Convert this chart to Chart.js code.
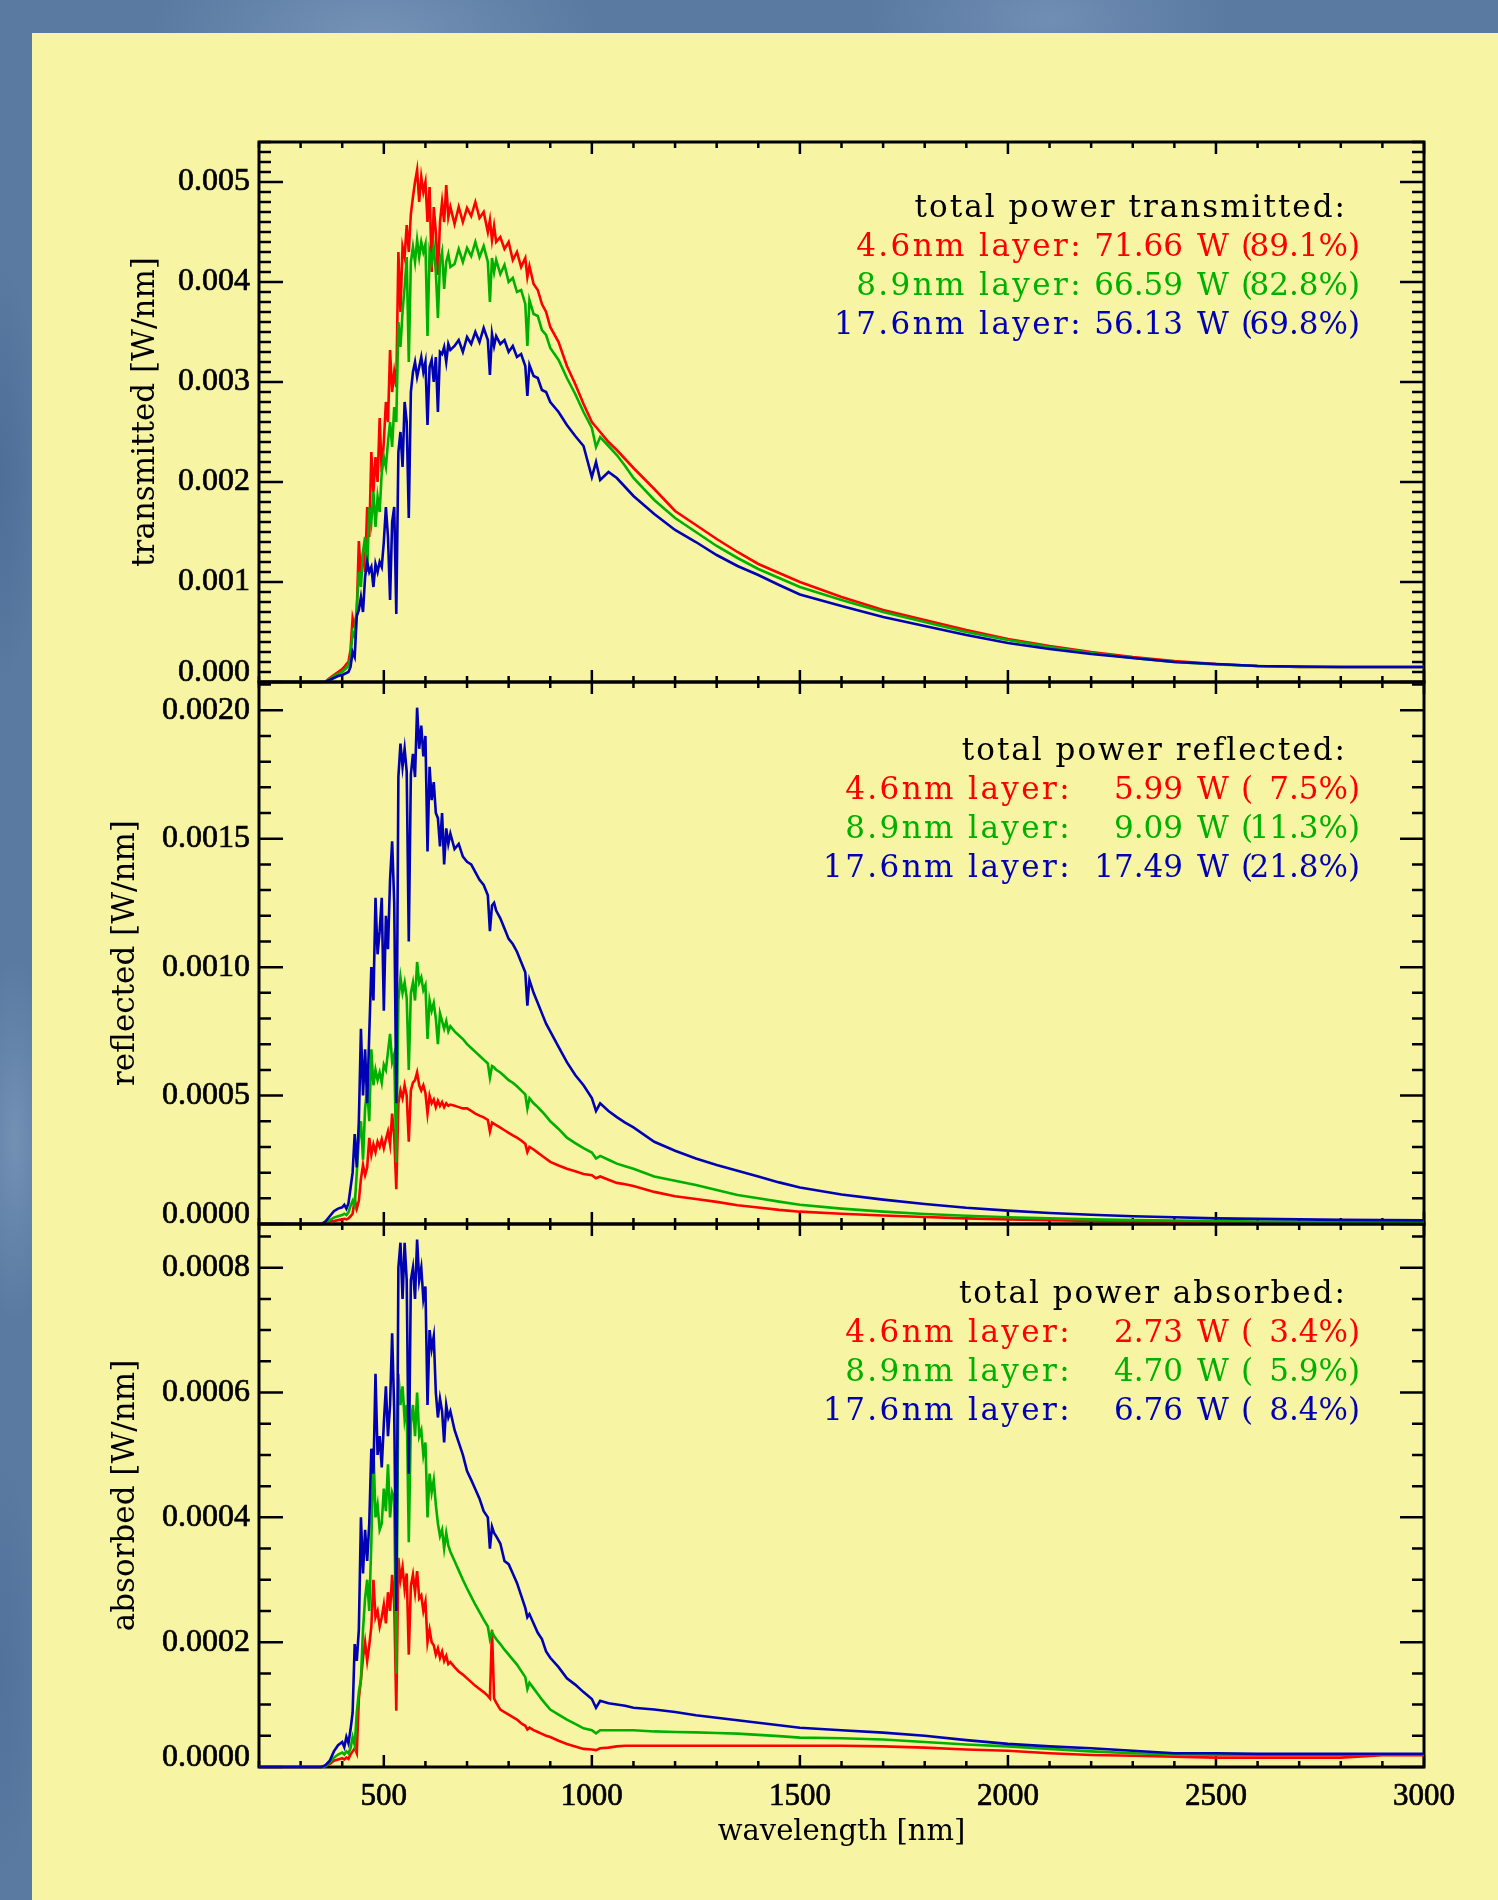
<!DOCTYPE html>
<html>
<head>
<meta charset="utf-8">
<script src="https://cdn.jsdelivr.net/npm/chart.js@4.4.1/dist/chart.umd.min.js"></script>
<style>
html, body { margin:0; padding:0; }
body {
  width:1498px; height:1900px; overflow:hidden; position:relative;
  background-color:#5a7aa1;
  background-image:
    radial-gradient(ellipse 320px 160px at 25% 2%, rgba(140,166,200,0.55), rgba(0,0,0,0) 70%),
    radial-gradient(ellipse 260px 140px at 70% 1%, rgba(135,160,198,0.5), rgba(0,0,0,0) 70%),
    radial-gradient(ellipse 60px 300px at 0% 25%, rgba(70,100,145,0.6), rgba(0,0,0,0) 70%),
    radial-gradient(ellipse 60px 260px at 1% 60%, rgba(140,166,200,0.5), rgba(0,0,0,0) 70%),
    radial-gradient(ellipse 60px 300px at 0% 88%, rgba(75,105,150,0.55), rgba(0,0,0,0) 70%);
}
#panel { position:absolute; left:32px; top:33px; right:0; bottom:0; background:#f7f5a3; }
canvas { position:absolute; left:0; top:0; }
</style>
</head>
<body>
<div id="panel"></div>
<canvas id="cTrans" width="1498" height="1900"></canvas>
<canvas id="cRefl" width="1498" height="1900"></canvas>
<canvas id="cAbs" width="1498" height="1900"></canvas>
<script>
// ---------------- DATA ----------------
const wavelength = [
  200, 300, 350, 360, 370, 380, 390,
  400, 405, 410, 415, 420, 425, 430, 435, 440,
  445, 450, 455, 460, 465, 470, 475, 480, 485, 490,
  495, 500, 505, 510, 515, 520, 525, 530, 535, 540,
  545, 550, 555, 560, 565, 570, 575, 580, 585, 590,
  595, 600, 605, 610, 615, 620, 625, 630, 635, 640,
  645, 650, 655, 660,
  670, 680, 690, 700, 710, 720, 730, 740, 750,
  755, 760, 765, 770,
  780, 790, 800, 810, 820, 830, 840,
  845, 850, 860, 870, 880, 890, 900,
  920, 940, 960, 980, 1000,
  1010, 1020, 1040, 1060, 1080, 1100,
  1150, 1200, 1250, 1300, 1350, 1400, 1450, 1500,
  1600, 1700, 1800, 1900, 2000, 2100, 2200, 2300, 2400, 2500, 2600, 2700, 2800, 2900, 3000
];

// transmitted [W/nm]
const transmitted46 = [
  0, 0, 0, 0.000005, 0.00004, 0.00007, 0.0001,
  0.00013, 0.00015, 0.00018, 0.0002, 0.00032, 0.00064, 0.00055, 0.0007, 0.00141,
  0.00105, 0.0013, 0.0011, 0.00175, 0.00145, 0.0023, 0.0019, 0.00225, 0.002, 0.00264,
  0.0021, 0.0024, 0.0028, 0.0026, 0.00332, 0.0029, 0.0031, 0.00295, 0.0043, 0.0037,
  0.00435, 0.00425, 0.00457, 0.0043, 0.00468, 0.00485, 0.005, 0.00512, 0.0048, 0.00505,
  0.0049, 0.005, 0.0046, 0.00495, 0.0041, 0.00475, 0.0045, 0.00407, 0.0046, 0.0048,
  0.0046, 0.00497, 0.00465, 0.00475,
  0.00458, 0.00475, 0.0046, 0.00474, 0.00466, 0.0048, 0.00464, 0.0047, 0.0045,
  0.00462, 0.00442, 0.00456, 0.0044,
  0.00445, 0.00433, 0.0044, 0.00422, 0.0043, 0.00415, 0.00424,
  0.00405, 0.00416, 0.00398, 0.00392, 0.00378, 0.0037, 0.00355,
  0.0034, 0.00316, 0.00298, 0.00278, 0.0026,
  0.00255, 0.0025, 0.0024, 0.00232, 0.00223, 0.00214,
  0.00193, 0.00171, 0.00157, 0.00143, 0.0013, 0.00118, 0.00109, 0.001,
  0.00085, 0.00072, 0.00062, 0.00052, 0.00043, 0.00036, 0.0003, 0.00025, 0.00021, 0.00018, 0.00016, 0.00015, 0.00015, 0.00015, 0.00015
];
const transmitted89 = [
  0, 0, 0, 0.000004, 0.00003, 0.00006, 0.00008,
  0.0001, 0.00012, 0.00014, 0.00016, 0.00025, 0.0005, 0.00045, 0.00075, 0.0011,
  0.00095, 0.0013, 0.00145, 0.0011, 0.00175, 0.0016, 0.0019, 0.00155, 0.00185, 0.0017,
  0.0021, 0.00225, 0.00215, 0.0024, 0.0026, 0.00235, 0.00275, 0.0026, 0.0036, 0.00335,
  0.0037, 0.00395, 0.00425, 0.0032, 0.0042, 0.00435, 0.0042, 0.00442, 0.00425, 0.0044,
  0.0043, 0.00438, 0.00346, 0.0043, 0.0042, 0.00435, 0.0041, 0.00364, 0.0042, 0.0043,
  0.00393, 0.0042, 0.00428, 0.00415,
  0.00418, 0.00433, 0.0042, 0.00434, 0.00426, 0.0044, 0.00425, 0.00436, 0.0042,
  0.0038, 0.00424, 0.0041, 0.00422,
  0.00408, 0.00417, 0.004, 0.00404, 0.0039, 0.00392, 0.00378,
  0.00336, 0.00382, 0.00368, 0.00366, 0.00352, 0.00347, 0.00334,
  0.00322, 0.00304, 0.00288, 0.0027, 0.00254,
  0.00235, 0.00245, 0.00236, 0.00227, 0.00216, 0.00204,
  0.00182, 0.00164, 0.0015, 0.00136, 0.00124, 0.00113, 0.00104, 0.00095,
  0.00082, 0.0007, 0.0006, 0.0005, 0.00042, 0.00035, 0.00029, 0.00024, 0.0002, 0.000175, 0.00016, 0.00015, 0.00015, 0.00015, 0.00015
];
const transmitted176 = [
  0, 0, 0, 0.000003, 0.00002, 0.00004, 0.00006,
  0.00007, 0.00008, 0.00009, 0.0001, 0.00015, 0.0003, 0.00025, 0.00066, 0.00072,
  0.00085, 0.0007, 0.00105, 0.0012, 0.0011, 0.00115, 0.00095, 0.00118, 0.0011, 0.0012,
  0.00115, 0.0014, 0.00175, 0.00145, 0.00082, 0.0016, 0.00175, 0.00068, 0.0023, 0.0025,
  0.00215, 0.0028, 0.0026, 0.00164, 0.0029, 0.0031, 0.0032, 0.00305, 0.00315, 0.00325,
  0.0031, 0.0032, 0.00257, 0.00315, 0.00322, 0.003, 0.00325, 0.0027, 0.0033, 0.00328,
  0.00335, 0.0032, 0.00338, 0.00332,
  0.00336, 0.00342, 0.0033, 0.00345, 0.00338, 0.0035, 0.0034, 0.00354, 0.00342,
  0.00307, 0.00348, 0.00336, 0.00346,
  0.00338, 0.00342, 0.0033, 0.00336, 0.00325, 0.00328, 0.00316,
  0.00286, 0.00317, 0.00306, 0.00304, 0.00292, 0.0029, 0.0028,
  0.0027, 0.00257, 0.00246, 0.00236, 0.00205,
  0.0022, 0.00202, 0.0021, 0.00204, 0.00195, 0.00186,
  0.00168, 0.00152, 0.0014, 0.00127, 0.00116, 0.00107, 0.00097, 0.000875,
  0.00076, 0.00065, 0.00056, 0.00047, 0.00039, 0.00033, 0.00028, 0.00024, 0.0002, 0.00018, 0.00016, 0.000155, 0.00015, 0.00015, 0.00015
];

// reflected [W/nm]
const reflected46 = [
  0, 0, 0, 0.000003, 0.00001, 0.000012, 0.000015,
  0.000018, 0.00002, 0.000018, 0.000022, 0.00003, 0.00004, 0.000095, 0.00006, 0.00009,
  0.000175, 0.00023, 0.00019, 0.00022, 0.000335, 0.00027, 0.00031, 0.00028, 0.00032, 0.0003,
  0.00033, 0.000295, 0.00033, 0.00036, 0.00031, 0.00043, 0.00034, 0.000135, 0.00047, 0.00052,
  0.00049, 0.00054, 0.0005, 0.00032, 0.00052, 0.00055, 0.00056, 0.00059, 0.00054, 0.00052,
  0.00054, 0.00051, 0.00043, 0.0005, 0.00047, 0.000485, 0.000455, 0.00048, 0.00046, 0.000475,
  0.000455, 0.00047, 0.00046, 0.000465,
  0.00046, 0.000455, 0.00045, 0.00045, 0.00044, 0.00043, 0.000422, 0.000415, 0.000405,
  0.00036, 0.000395, 0.00039, 0.000385,
  0.000375, 0.000365, 0.000355, 0.000345, 0.000336, 0.000325, 0.000312,
  0.00028, 0.0003, 0.00029, 0.000278, 0.000266, 0.000254, 0.000242,
  0.000228, 0.000215, 0.000205, 0.000195, 0.00019,
  0.000178, 0.000185, 0.000172, 0.00016, 0.000155, 0.000148,
  0.000125, 0.000108, 0.000097, 0.000086, 0.000073, 0.000064, 0.000055, 0.000048,
  0.00004, 0.000033, 0.000027, 0.000022, 0.000018, 0.000015, 0.000012, 0.00001, 0.000009, 0.000008, 0.000007, 0.000007, 0.000006, 0.000006, 0.000006
];
const reflected89 = [
  0, 0, 0, 0.000005, 0.000015, 0.000025, 0.00003,
  0.000035, 0.00004, 0.000035, 0.000045, 0.00007, 0.00009, 0.00007, 0.0002, 0.00033,
  0.0004, 0.00025, 0.00045, 0.00053, 0.0004, 0.00068, 0.00054, 0.0006, 0.00056, 0.00059,
  0.00055, 0.00062, 0.0006, 0.00067, 0.00074, 0.00063, 0.00066, 0.00024, 0.00087, 0.00096,
  0.0009, 0.00094, 0.00088, 0.0006, 0.0009, 0.00094, 0.00087, 0.00102, 0.00094, 0.00096,
  0.00091, 0.00093, 0.00072, 0.00087, 0.00083, 0.00086, 0.0008, 0.0007, 0.00082, 0.00079,
  0.00076, 0.00079, 0.00075, 0.00077,
  0.00075, 0.000735, 0.00072, 0.0007, 0.000685, 0.00067, 0.000655, 0.00064, 0.000625,
  0.00057, 0.000615, 0.00061, 0.0006,
  0.00059, 0.000575, 0.00056, 0.00055, 0.000536, 0.00052, 0.000505,
  0.00045, 0.00049, 0.00047, 0.000455, 0.000438, 0.00042, 0.0004,
  0.00037, 0.000336, 0.000315, 0.000295, 0.000278,
  0.000255, 0.000265, 0.00025, 0.000235, 0.000225, 0.000215,
  0.000185, 0.000168, 0.000152, 0.000132, 0.000113, 0.0001, 0.000087, 0.000075,
  0.00006, 0.000048, 0.000039, 0.000032, 0.000026, 0.000022, 0.000018, 0.000015, 0.000013, 0.000011, 0.00001, 0.000009, 0.000008, 0.000008, 0.000007
];
const reflected176 = [
  0, 0, 0, 0.00001, 0.00003, 0.00005, 0.00006,
  0.000065, 0.000075, 0.00006, 0.00008, 0.00014, 0.0002, 0.00035, 0.00022, 0.0004,
  0.00076, 0.0005, 0.00068, 0.00047, 0.00074, 0.001, 0.00087, 0.00127, 0.00105, 0.00114,
  0.00127, 0.00083, 0.0012, 0.00107, 0.00134, 0.00149, 0.00125, 0.00047, 0.00174, 0.00187,
  0.00178, 0.00185, 0.00176, 0.0011, 0.00175, 0.00183, 0.00174, 0.00201, 0.00185, 0.00194,
  0.00182, 0.0019, 0.00145, 0.00178, 0.00165, 0.00172, 0.0016, 0.00158, 0.00147, 0.0016,
  0.0014, 0.00154, 0.00148, 0.00152,
  0.00146, 0.00148, 0.00143, 0.00141, 0.0014, 0.00137, 0.00134, 0.00132, 0.00128,
  0.00114, 0.00124, 0.00125, 0.00122,
  0.00119, 0.00115, 0.00111, 0.00109, 0.00106, 0.00102, 0.00098,
  0.00085, 0.00095, 0.0009, 0.00086, 0.00082, 0.00078, 0.00075,
  0.00069, 0.00063, 0.00058, 0.00054, 0.00049,
  0.00044, 0.00047, 0.00044, 0.000416, 0.000395, 0.000376,
  0.00032, 0.000285, 0.000255, 0.00023, 0.000207, 0.000185, 0.000162, 0.000142,
  0.000115, 0.000095, 0.000078, 0.000063, 0.000052, 0.000043, 0.000036, 0.00003, 0.000026, 0.000022, 0.00002, 0.000018, 0.000016, 0.000015, 0.000014
];

// absorbed [W/nm]
const absorbed46 = [
  0, 0, 0, 0.000001, 0.000005, 0.00001, 0.000012,
  0.000014, 0.000012, 0.000015, 0.000013, 0.00002, 0.000025, 0.00003, 0.000022, 0.00011,
  0.00014, 0.000175, 0.0002, 0.00017, 0.000195, 0.000225, 0.0003, 0.00024, 0.00025, 0.000225,
  0.00024, 0.00026, 0.00023, 0.00028, 0.00025, 0.000308, 0.00026, 0.00009, 0.000335, 0.0003,
  0.00032, 0.000285, 0.00031, 0.00018, 0.00029, 0.000308, 0.00028, 0.000314, 0.00027, 0.000275,
  0.00025, 0.000265, 0.0002, 0.00022, 0.0002, 0.000195, 0.00018, 0.00019, 0.000175, 0.000185,
  0.00017, 0.000178, 0.000165, 0.000168,
  0.00016, 0.000153, 0.000148, 0.000142, 0.000136, 0.00013, 0.000125, 0.00012, 0.000114,
  0.00011, 0.00022, 0.00011, 0.000103,
  0.000092, 0.000088, 0.000084, 0.00008, 0.000076, 0.00007, 0.000066,
  0.00006, 0.000063, 0.000059, 0.000056, 0.000053, 0.00005, 0.000048,
  0.000042, 0.000037, 0.000033, 0.000029, 0.000028,
  0.000027, 0.00003, 0.000031, 0.000033, 0.000034, 0.000034,
  0.000034, 0.000034, 0.000034, 0.000034, 0.000034, 0.000034, 0.000034, 0.000034,
  0.000034, 0.000033, 0.000031, 0.000028, 0.000026, 0.000022, 0.0000193, 0.000018, 0.0000166, 0.000015, 0.000015, 0.000015, 0.000015, 0.000019, 0.000019
];
const absorbed89 = [
  0, 0, 0, 0.000002, 0.000008, 0.000015, 0.00002,
  0.000023, 0.00002, 0.000025, 0.000022, 0.00003, 0.000048, 0.000035, 0.000087, 0.00012,
  0.00014, 0.00022, 0.00027, 0.0003, 0.00025, 0.00036, 0.00051, 0.0004, 0.00042, 0.00038,
  0.00039, 0.000446, 0.00041, 0.000485, 0.0004, 0.00044, 0.00043, 0.00015, 0.00063, 0.00058,
  0.00061, 0.000557, 0.00058, 0.00036, 0.00055, 0.00058, 0.00053, 0.0006, 0.00053, 0.00054,
  0.0005, 0.00052, 0.0004, 0.00047, 0.00044, 0.00046, 0.00042, 0.00039, 0.00037, 0.00038,
  0.00035, 0.000375, 0.000355, 0.000345,
  0.00033, 0.000315, 0.0003, 0.000286, 0.000273, 0.00026, 0.000248, 0.000236, 0.000225,
  0.000205, 0.000216, 0.00021, 0.000205,
  0.000197, 0.000188, 0.00018, 0.000172, 0.000164, 0.000154, 0.000144,
  0.000125, 0.000135, 0.000126, 0.000117, 0.000108, 0.0001, 0.000092,
  0.000084, 0.000076, 0.000069, 0.000062, 0.000059,
  0.000054, 0.000059, 0.000059, 0.000059, 0.000059, 0.000059,
  0.000057, 0.000056, 0.0000555, 0.0000545, 0.0000535, 0.0000515, 0.0000495, 0.000047,
  0.000046, 0.000044, 0.00004, 0.000036, 0.000033, 0.000029, 0.000025, 0.000022, 0.00002, 0.0000196, 0.0000196, 0.0000196, 0.0000196, 0.0000196, 0.0000196
];
const absorbed176 = [
  0, 0, 0, 0.000003, 0.00001, 0.000025, 0.000035,
  0.00004, 0.000032, 0.000048, 0.000038, 0.00006, 0.000087, 0.000197, 0.00017, 0.00022,
  0.0004, 0.00031, 0.00038, 0.00033, 0.00039, 0.00051, 0.00047, 0.00063, 0.0005, 0.00053,
  0.00048, 0.00055, 0.00061, 0.00053, 0.00058, 0.000695, 0.00057, 0.00025, 0.0008, 0.00084,
  0.00075, 0.00084, 0.00078, 0.00047, 0.00078, 0.0008, 0.00075, 0.000845, 0.00078, 0.0008,
  0.00075, 0.00077, 0.00058, 0.0007, 0.00067, 0.00069, 0.0006, 0.00056, 0.00059, 0.00057,
  0.00052, 0.00058, 0.00056, 0.00057,
  0.00054, 0.00052, 0.0005, 0.000474, 0.00046, 0.000445, 0.00043, 0.00041, 0.0004,
  0.00035, 0.000385, 0.000375, 0.00037,
  0.000358, 0.00033, 0.000325, 0.00031, 0.000295, 0.000275, 0.000255,
  0.00024, 0.000245, 0.00023, 0.000215, 0.000205, 0.000185, 0.000175,
  0.00016, 0.000142, 0.000132, 0.00012, 0.000109,
  0.000095, 0.000106, 0.000102, 0.0001, 0.000098, 0.000095,
  0.000092, 0.000088, 0.000083, 0.000079, 0.000075, 0.000071, 0.000067, 0.000063,
  0.000059, 0.000055, 0.00005, 0.000043, 0.000037, 0.000033, 0.00003, 0.000026, 0.000022, 0.000022, 0.000021, 0.000021, 0.000021, 0.000021, 0.000021
];

// legend numbers
const layerNames = ['4.6nm layer:', '8.9nm layer:', '17.6nm layer:'];
const transPowerW = [71.66, 66.59, 56.13];
const transPercent = [89.1, 82.8, 69.8];
const reflPowerW = [5.99, 9.09, 17.49];
const reflPercent = [7.5, 11.3, 21.8];
const absPowerW = [2.73, 4.70, 6.76];
const absPercent = [3.4, 5.9, 8.4];

// ticks
const xTickValues = [500, 1000, 1500, 2000, 2500, 3000];
const xTickLabels = ['500', '1000', '1500', '2000', '2500', '3000'];
const transTickValues = [0, 0.001, 0.002, 0.003, 0.004, 0.005];
const transTickLabels = ['0.000', '0.001', '0.002', '0.003', '0.004', '0.005'];
const reflTickValues = [0, 0.0005, 0.001, 0.0015, 0.002];
const reflTickLabels = ['0.0000', '0.0005', '0.0010', '0.0015', '0.0020'];
const absTickValues = [0, 0.0002, 0.0004, 0.0006, 0.0008];
const absTickLabels = ['0.0000', '0.0002', '0.0004', '0.0006', '0.0008'];

// ---------------- STYLE / LAYOUT ----------------
const W = 1498, H = 1900;
const PLOT_LEFT = 259, PLOT_RIGHT = 1424;
const COLORS = ['#ff0000', '#00b000', '#0000b4'];
const TICK_FONT = 'Liberation Serif';
const TEXT_FONT = 'DejaVu Serif';

function minorList(min, max, step, majors) {
  const out = [];
  const n = Math.round((max - min) / step);
  for (let i = 0; i <= n; i++) {
    const v = +(min + i * step).toFixed(8);
    if (!majors.some(m => Math.abs(m - v) < step / 10)) out.push(v);
  }
  return out;
}
const xMinor = minorList(200, 3000, 100, xTickValues);

const frameTicks = {
  id: 'frameTicks',
  beforeDatasetsDraw(chart, args, o) {
    const { ctx, chartArea: { left, right, top, bottom }, scales: { x, y } } = chart;
    ctx.save();
    ctx.strokeStyle = '#000';
    ctx.lineWidth = 2.5;
    ctx.lineCap = 'butt';
    ctx.beginPath();
    const vt = (v, len) => {
      const px = x.getPixelForValue(v);
      ctx.moveTo(px, bottom); ctx.lineTo(px, bottom - len);
      ctx.moveTo(px, top); ctx.lineTo(px, top + len);
    };
    xTickValues.forEach(v => vt(v, 12));
    xMinor.forEach(v => vt(v, 6));
    const ht = (v, len) => {
      const py = y.getPixelForValue(v);
      ctx.moveTo(left, py); ctx.lineTo(left + len, py);
      ctx.moveTo(right, py); ctx.lineTo(right - len, py);
    };
    o.yMajor.forEach(v => ht(v, 24));
    o.yMinor.forEach(v => ht(v, 12));
    ctx.stroke();
    ctx.lineWidth = 3;
    ctx.strokeRect(left, top, right - left, bottom - top);
    ctx.restore();
  }
};

const powerLegend = {
  id: 'powerLegend',
  afterDraw(chart, args, o) {
    const ctx = chart.ctx;
    ctx.save();
    ctx.font = '31px "' + TEXT_FONT + '"';
    ctx.textBaseline = 'alphabetic';
    ctx.fillStyle = '#000';
    ctx.textAlign = 'right';
    ctx.letterSpacing = '2px';
    ctx.fillText(o.title, 1347, o.y);
    for (let i = 0; i < 3; i++) {
      const yb = o.y + 39 + i * 39;
      ctx.fillStyle = COLORS[i];
      ctx.letterSpacing = '2.4px';
      ctx.textAlign = 'right';
      ctx.fillText(layerNames[i], o.labelRight, yb);
      ctx.letterSpacing = '0px';
      ctx.fillText(o.power[i].toFixed(2), 1183, yb);
      ctx.textAlign = 'left';
      ctx.fillText('W', 1197, yb);
      ctx.fillText('(', 1241, yb);
      ctx.textAlign = 'right';
      ctx.fillText(o.pct[i].toFixed(1) + '%', 1348, yb);
      ctx.textAlign = 'left';
      ctx.fillText(')', 1348, yb);
    }
    ctx.restore();
  }
};

function makeChart(id, p) {
  const series = p.series;
  const datasets = series.map((s, k) => ({
    label: layerNames[k],
    data: wavelength.map((w, i) => ({ x: w, y: s[i] })),
    borderColor: COLORS[k],
    borderWidth: 2.6,
    order: 3 - k,
    clip: 4,
    pointRadius: 0,
    tension: 0
  }));
  return new Chart(document.getElementById(id), {
    type: 'line',
    data: { datasets },
    options: {
      responsive: false,
      animation: false,
      events: [],
      layout: { padding: { left: 0, right: W - PLOT_RIGHT, top: p.top, bottom: p.showX ? 0 : H - p.bottom } },
      plugins: {
        legend: { display: false },
        tooltip: { enabled: false },
        frameTicks: { yMajor: p.yTicks, yMinor: minorList(0, p.yMax, p.yMinorStep, p.yTicks) },
        powerLegend: { title: p.legendTitle, power: p.power, pct: p.pct, y: p.legendY, labelRight: p.labelRight }
      },
      scales: {
        x: {
          type: 'linear', min: 200, max: 3000, position: 'bottom',
          afterBuildTicks: s => { s.ticks = xTickValues.map(v => ({ value: v })); },
          afterFit: s => { s.height = p.showX ? H - p.bottom : 0; s.paddingLeft = 0; s.paddingRight = 0; s.paddingTop = 0; s.paddingBottom = 0; },
          grid: { display: false, drawTicks: false },
          border: { display: false },
          ticks: {
            display: p.showX, autoSkip: false, maxRotation: 0, minRotation: 0, padding: 11, color: '#000',
            textStrokeColor: '#000', textStrokeWidth: 0.7,
            font: { family: TICK_FONT, size: 31 },
            callback: (v, i) => xTickLabels[i]
          },
          title: { display: p.showX, text: 'wavelength [nm]', color: '#000', font: { family: TEXT_FONT, size: 29 }, padding: { top: 0, bottom: 50 } }
        },
        y: {
          type: 'linear', min: 0, max: p.yMax, position: 'left',
          afterBuildTicks: s => { s.ticks = p.yTicks.map(v => ({ value: v })); },
          afterFit: s => { s.width = PLOT_LEFT; s.paddingTop = 0; s.paddingBottom = 0; s.paddingLeft = 0; s.paddingRight = 0; },
          grid: { display: false, drawTicks: false },
          border: { display: false },
          ticks: {
            padding: 9, color: '#000',
            textStrokeColor: '#000', textStrokeWidth: 0.7,
            font: { family: TICK_FONT, size: 32, lineHeight: '18px' },
            callback: (v, i) => i === 0 ? [p.yLabels[0], ''] : p.yLabels[i]
          },
          title: { display: true, text: p.yTitle, color: '#000', font: { family: TEXT_FONT, size: 31 }, padding: { top: p.yTitleX - 18.6, bottom: 0 } }
        }
      }
    },
    plugins: [frameTicks, powerLegend]
  });
}

makeChart('cTrans', {
  series: [transmitted46, transmitted89, transmitted176],
  top: 142, bottom: 682, showX: false, yMax: 0.0054, yMinorStep: 0.0001,
  yTicks: transTickValues, yLabels: transTickLabels, yTitle: 'transmitted [W/nm]', yTitleX: 146,
  legendTitle: 'total power transmitted:', power: transPowerW, pct: transPercent, legendY: 217, labelRight: 1083
});
makeChart('cRefl', {
  series: [reflected46, reflected89, reflected176],
  top: 682, bottom: 1224, showX: false, yMax: 0.00211, yMinorStep: 0.0001,
  yTicks: reflTickValues, yLabels: reflTickLabels, yTitle: 'reflected [W/nm]', yTitleX: 126,
  legendTitle: 'total power reflected:', power: reflPowerW, pct: reflPercent, legendY: 760, labelRight: 1072
});
makeChart('cAbs', {
  series: [absorbed46, absorbed89, absorbed176],
  top: 1224, bottom: 1767, showX: true, yMax: 0.00087, yMinorStep: 0.00005,
  yTicks: absTickValues, yLabels: absTickLabels, yTitle: 'absorbed [W/nm]', yTitleX: 126,
  legendTitle: 'total power absorbed:', power: absPowerW, pct: absPercent, legendY: 1303, labelRight: 1072
});
</script>
</body>
</html>
